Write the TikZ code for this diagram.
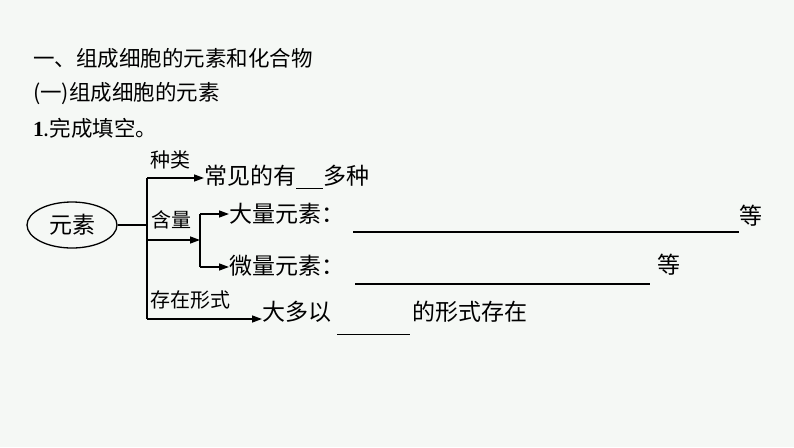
\documentclass[tikz,border=0pt]{standalone}
\usepackage{fontspec}
\setmainfont{Liberation Serif}
\newfontfamily\cjk{Noto Sans CJK SC}
\usetikzlibrary{arrows.meta,shapes.geometric}
\definecolor{bg}{HTML}{F5F8F5}
\begin{document}
\begin{tikzpicture}[x=1pt,y=-1pt,
  txt/.style={inner sep=0pt,anchor=west,font=\cjk\fontsize{23}{23}\selectfont},
  lbl/.style={inner sep=0pt,anchor=west,font=\cjk\fontsize{20}{20}\selectfont},
  ttl/.style={inner sep=0pt,anchor=west,font=\cjk\fontsize{21.5}{21.5}\selectfont},
  conn/.style={line width=1.4pt},
  arr/.style={line width=1.4pt,-{Triangle[length=10pt,width=7pt]}},
  blank/.style={line width=1.1pt}]
\fill[bg] (0,0) rectangle (794,447);
\useasboundingbox (0,0) rectangle (794,447);
\node[ttl] (t1) at (33,58) {一、组成细胞的元素和化合物};
\node[ttl] (t2) at (33,94) {(一)组成细胞的元素};
\node[ttl] (t3) at (33,128) {{\rmfamily\bfseries 1}.完成填空。};
\node[draw,ellipse,line width=1.3pt,minimum width=90pt,minimum height=46pt,inner sep=0pt,font=\cjk\fontsize{23}{23}\selectfont] (el) at (72,225) {元素};
\coordinate (j) at (147,225);
\coordinate (tt) at (147,178);
\coordinate (tb) at (147,319);
\coordinate (tm) at (147,240);
\coordinate (sj) at (200,240);
\coordinate (st) at (200,214);
\coordinate (sb) at (200,267);
\draw[conn] (el.east) -- (j);
\draw[conn] (tt) -- (tb);
\node[txt] (a) at (204,177) {常见的有\rule[-4pt]{27pt}{1.1pt}多种};
\draw[arr] (tt) -- (a.west |- tt);
\node[lbl] (la) at (150,160) {种类};
\draw[arr] (tm) -- (sj);
\node[lbl] (lb) at (151,220) {含量};
\draw[conn] (st) -- (sb);
\node[txt] (b1) at (229,214) {大量元素：};
\node[txt] (b2) at (229,266) {微量元素：};
\draw[arr] (st) -- (b1.west |- st);
\draw[arr] (sb) -- (b2.west |- sb);
\coordinate (u1a) at (353,232); \coordinate (u1b) at (739,232);
\draw[blank] (u1a) -- (u1b);
\node[txt] (d1) at (739,216) {等};
\coordinate (u2a) at (355,284); \coordinate (u2b) at (650,284);
\draw[blank] (u2a) -- (u2b);
\node[txt] (d2) at (657,265) {等};
\node[lbl] (lc) at (150,300) {存在形式};
\node[txt] (c) at (262,318) {大多以\hspace{6pt}\rule[-15pt]{73pt}{1.1pt}\hspace{2pt}的形式存在};
\draw[arr] (tb) -- (c.west |- tb);
\end{tikzpicture}
\end{document}
